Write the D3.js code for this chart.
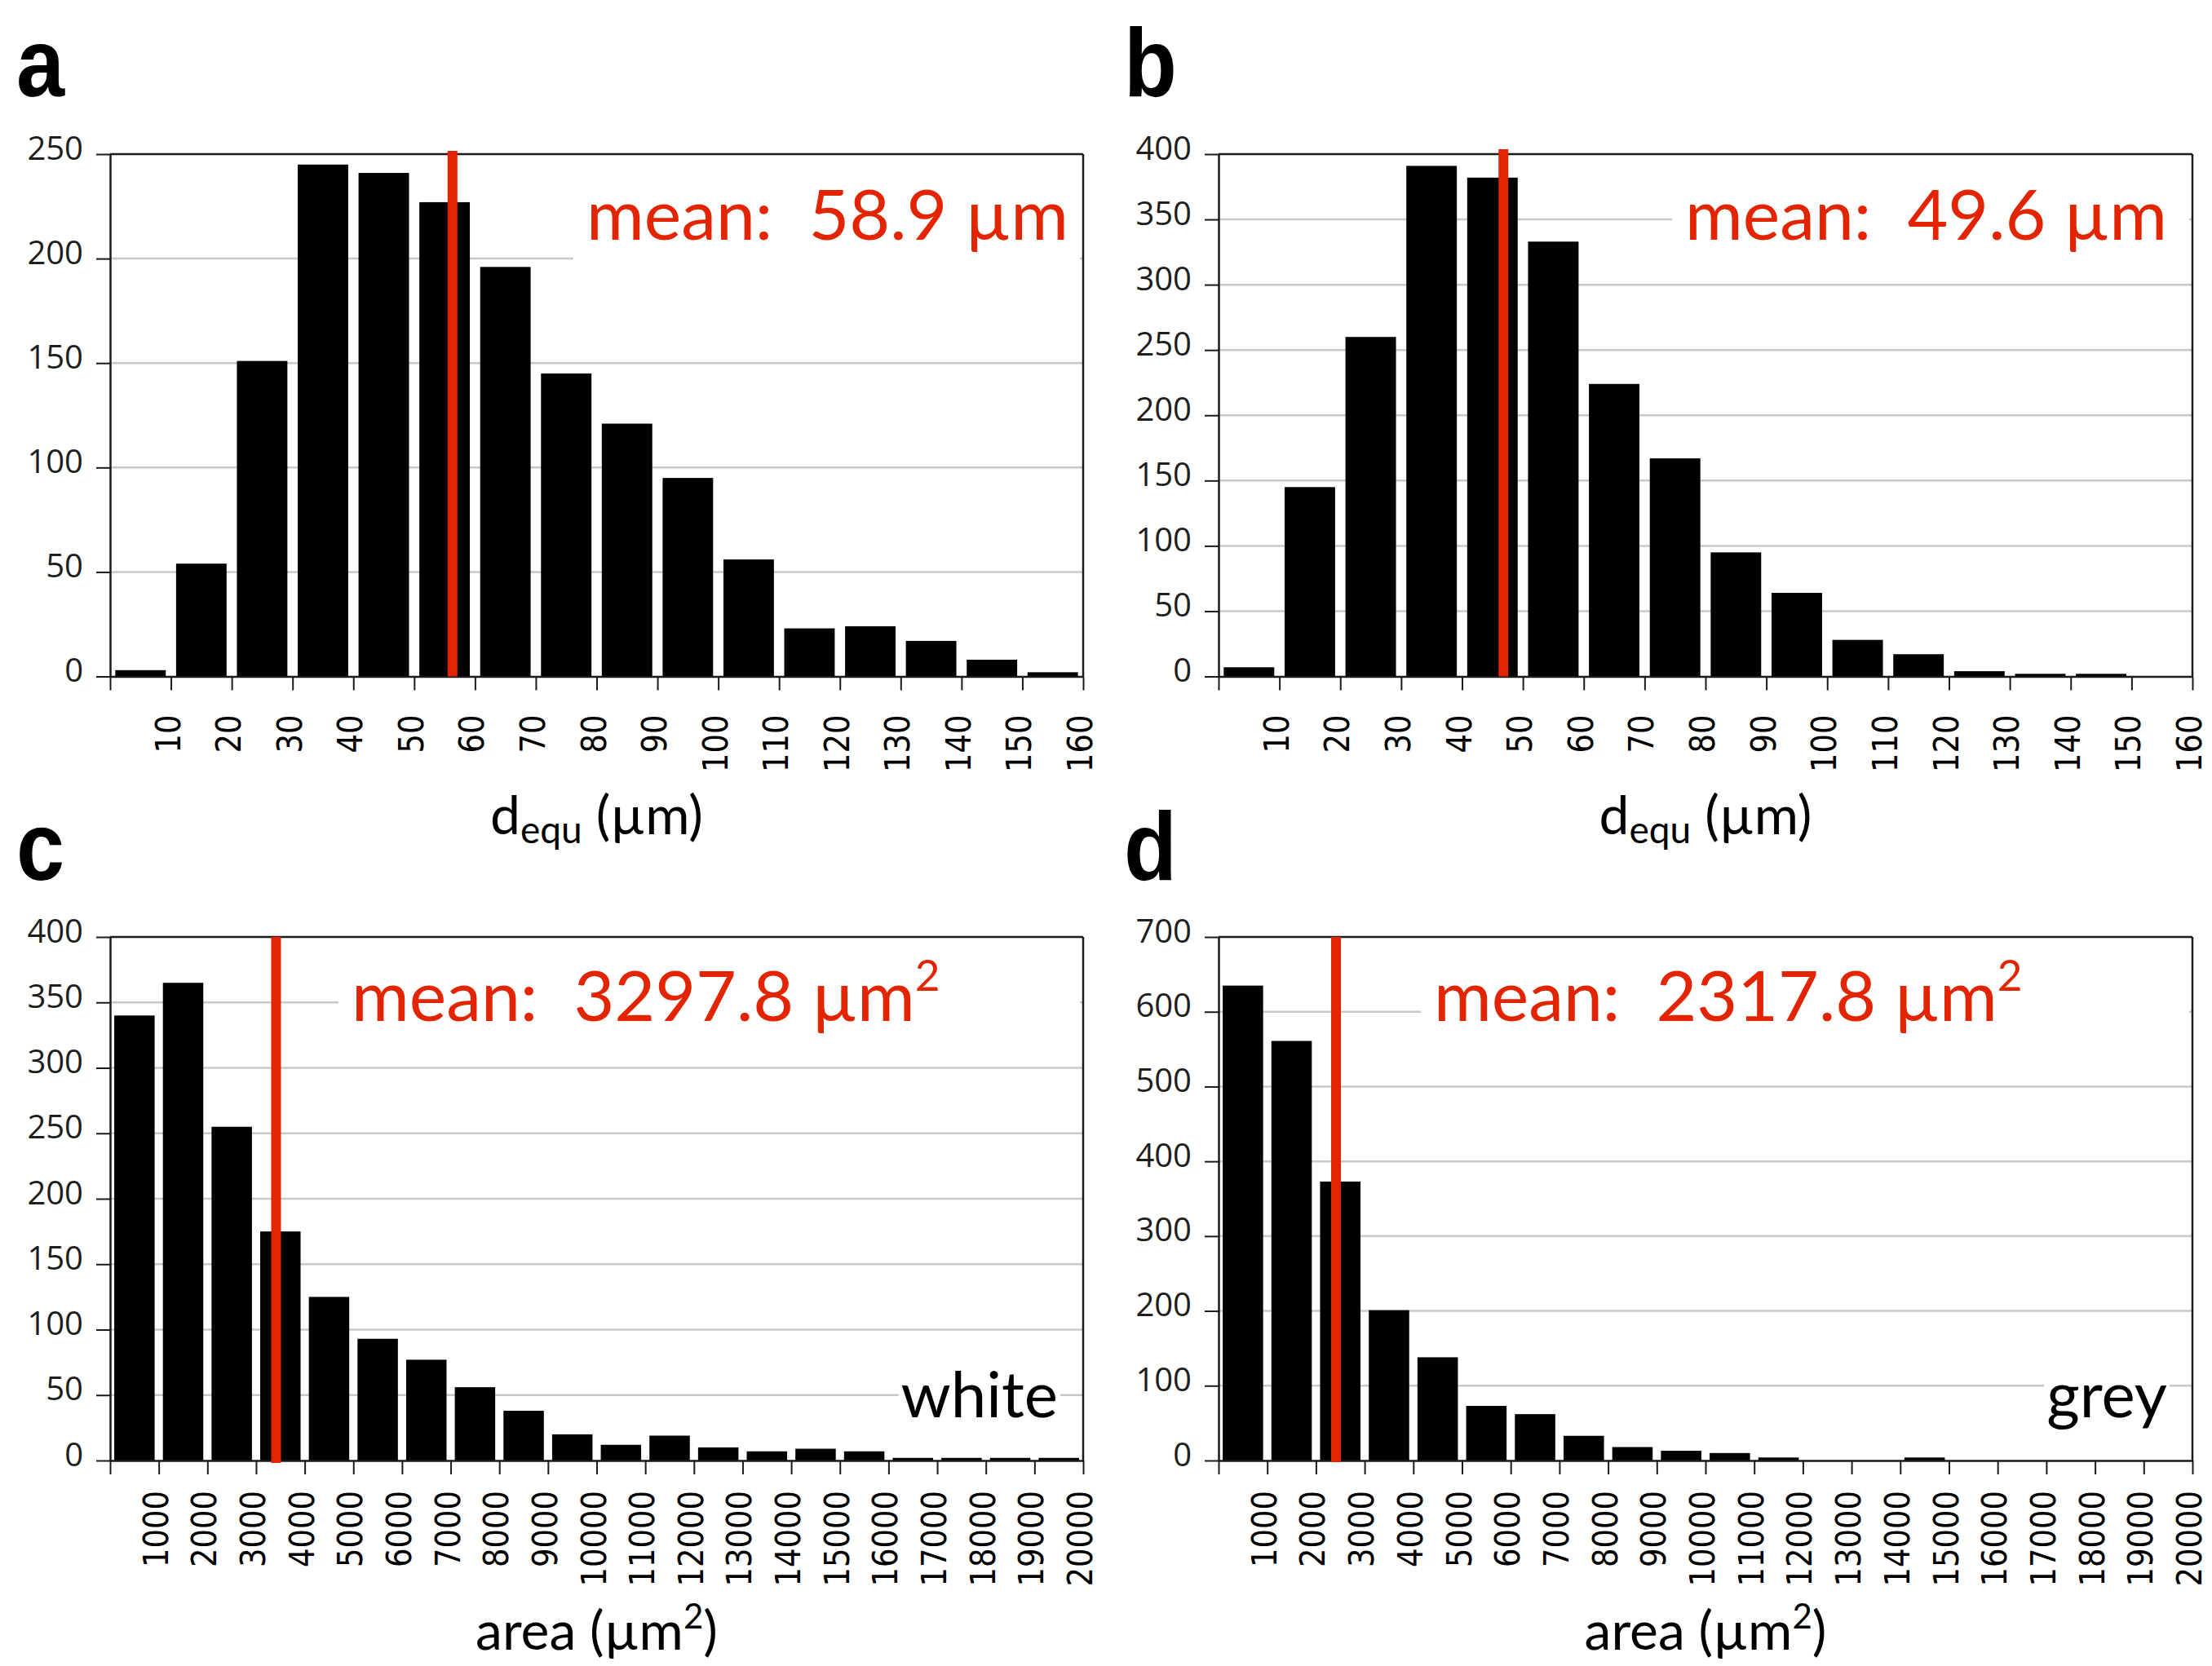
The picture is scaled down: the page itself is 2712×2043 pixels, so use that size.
<!DOCTYPE html>
<html>
<head>
<meta charset="utf-8">
<script src="https://cdn.jsdelivr.net/npm/d3@7/dist/d3.min.js"></script>
<style>
  body { margin: 0; background: #fff; }
  svg { display: block; }
</style>
</head>
<body>
<div id="chart"></div>
<script>
// bin edges on the x axes (label sits on the right edge of each bin)
var diamTicks = [0, 10, 20, 30, 40, 50, 60, 70, 80, 90, 100, 110, 120, 130, 140, 150, 160];
var areaTicks = [0, 1000, 2000, 3000, 4000, 5000, 6000, 7000, 8000, 9000, 10000,
                 11000, 12000, 13000, 14000, 15000, 16000, 17000, 18000, 19000, 20000];

// counts per bin
var countsA = [3, 54, 151, 245, 241, 227, 196, 145, 121, 95, 56, 23, 24, 17, 8, 2];
var countsB = [7, 145, 260, 391, 382, 333, 224, 167, 95, 64, 28, 17, 4, 2, 2, 0];
var countsC = [340, 365, 255, 175, 125, 93, 77, 56, 38, 20, 12, 19, 10, 7, 9, 7, 2, 2, 2, 2];
var countsD = [635, 561, 373, 201, 138, 73, 62, 33, 18, 13, 10, 4, 0, 0, 4, 0, 0, 0, 0, 0];

var yTicksA = [0, 50, 100, 150, 200, 250];
var yTicksB = [0, 50, 100, 150, 200, 250, 300, 350, 400];
var yTicksC = [0, 50, 100, 150, 200, 250, 300, 350, 400];
var yTicksD = [0, 100, 200, 300, 400, 500, 600, 700];

// where the red line stands in each panel, and the printed mean
var meanLines = [56.3, 46.8, 3411, 2412];
var meanTexts = ["58.9", "49.6", "3297.8", "2317.8"];
var letters = ["a", "b", "c", "d"];
var groupLabels = [null, null, "white", "grey"];

var red = "#e32400";

// layout of the four panels (pixels)
var panels = [
    {counts: countsA, ticks: diamTicks, yTicks: yTicksA, left: 135, right: 1328, top: 189, bottom: 829.5,
     lineTop: 185, lineBottom: 829.5, meanDx: 584, meanDy: 105, labelGap: 47, area: false,
     letterX: 20, letterY: 118, titleY: 1023},
    {counts: countsB, ticks: diamTicks, yTicks: yTicksB, left: 1494, right: 2688, top: 189, bottom: 829.5,
     lineTop: 183, lineBottom: 829.5, meanDx: 572, meanDy: 105, labelGap: 47, area: false,
     letterX: 1378, letterY: 118, titleY: 1023},
    {counts: countsC, ticks: areaTicks, yTicks: yTicksC, left: 135, right: 1328, top: 1149, bottom: 1791,
     lineTop: 1149, lineBottom: 1794, meanDx: 296, meanDy: 103, labelGap: 37, area: true,
     letterX: 20, letterY: 1079, titleY: 2023},
    {counts: countsD, ticks: areaTicks, yTicks: yTicksD, left: 1494, right: 2688, top: 1149, bottom: 1791,
     lineTop: 1149, lineBottom: 1793, meanDx: 264, meanDy: 103, labelGap: 37, area: true,
     letterX: 1378, letterY: 1079, titleY: 2023}
];

var svg = d3.select("#chart").append("svg")
    .attr("width", 2712)
    .attr("height", 2043);

panels.forEach(function (p, i) { drawPanel(p, i); });

function drawPanel(p, i) {
    var n = p.counts.length;
    var g = svg.append("g");

    var x = d3.scaleLinear()
        .domain([0, p.ticks[p.ticks.length - 1]])
        .range([p.left, p.right]);

    // bars sit centered in each bin
    var band = d3.scaleBand()
        .domain(d3.range(n))
        .range([p.left, p.right])
        .paddingInner(0.17)
        .paddingOuter(0.085);

    var y = d3.scaleLinear()
        .domain([0, p.yTicks[p.yTicks.length - 1]])
        .range([p.bottom, p.top]);

    /* grid lines */
    g.selectAll(".grid")
        .data(p.yTicks.slice(1, -1))
        .enter().append("line")
        .attr("class", "grid")
        .attr("x1", p.left)
        .attr("x2", p.right)
        .attr("y1", function (d) { return y(d); })
        .attr("y2", function (d) { return y(d); })
        .attr("stroke", "#c8c8c8")
        .attr("stroke-width", 2.5);

    var bg = g.append("g"); // white boxes behind the labels

    /* bars */
    g.selectAll(".bar")
        .data(p.counts)
        .enter().append("rect")
        .attr("class", "bar")
        .attr("x", function (d, j) { return band(j); })
        .attr("width", band.bandwidth())
        .attr("y", function (d) { return y(d); })
        .attr("height", function (d) { return p.bottom - y(d); })
        .attr("fill", "#000");

    /* frame: top and right */
    g.append("line")
        .attr("x1", p.left).attr("x2", p.right)
        .attr("y1", p.top).attr("y2", p.top)
        .attr("stroke", "#1a1a1a").attr("stroke-width", 2.5);
    g.append("line")
        .attr("x1", p.right).attr("x2", p.right)
        .attr("y1", p.top).attr("y2", p.bottom)
        .attr("stroke", "#1a1a1a").attr("stroke-width", 2.5);

    /* y axis */
    var yAxis = d3.axisLeft(y)
        .tickValues(p.yTicks)
        .tickSize(17)
        .tickSizeOuter(0)
        .tickPadding(16);
    var ya = g.append("g")
        .attr("transform", "translate(" + p.left + ",0)")
        .call(yAxis);
    ya.select(".domain").attr("stroke", "#1a1a1a").attr("stroke-width", 2.5);
    ya.selectAll(".tick line").attr("stroke", "#1a1a1a").attr("stroke-width", 2);
    ya.selectAll("text")
        .attr("dy", "0.15em")
        .attr("fill", "#1e1e1e")
        .style("font-family", "'Open Sans'")
        .style("font-size", "40px");

    /* x axis, labels turned up */
    var xAxis = d3.axisBottom(x)
        .tickValues(p.ticks)
        .tickSize(17)
        .tickSizeOuter(0)
        .tickFormat(function (d) { return d === 0 ? "" : d; });
    var xa = g.append("g")
        .attr("transform", "translate(0," + p.bottom + ")")
        .call(xAxis);
    xa.select(".domain").attr("stroke", "#1a1a1a").attr("stroke-width", 2.5);
    xa.selectAll(".tick line").attr("stroke", "#1a1a1a").attr("stroke-width", 2);
    xa.selectAll("text")
        .attr("y", 0)
        .attr("x", 0)
        .attr("dy", "0.25em")
        .attr("text-anchor", "end")
        .attr("transform", "translate(0," + p.labelGap + ") rotate(-90) scale(0.88,1)")
        .attr("fill", "#000")
        .style("font-family", "'DejaVu Sans'")
        .style("font-size", "42px");

    /* mean line */
    g.append("line")
        .attr("x1", x(meanLines[i])).attr("x2", x(meanLines[i]))
        .attr("y1", p.lineTop).attr("y2", p.lineBottom)
        .attr("stroke", red)
        .attr("stroke-width", 12);

    /* mean label */
    var mx = p.left + p.meanDx,
        my = p.top + p.meanDy;
    bg.append("rect")
        .attr("x", mx - 16)
        .attr("y", p.top + 3)
        .attr("width", p.right - 4 - (mx - 16))
        .attr("height", my + 33 - (p.top + 3))
        .attr("fill", "#fff");

    var mt = g.append("text")
        .attr("x", mx)
        .attr("y", my)
        .attr("fill", red)
        .attr("xml:space", "preserve")
        .style("white-space", "pre")
        .style("font-family", "Lato")
        .style("font-size", "86px");
    mt.append("tspan").text("mean:  " + meanTexts[i] + " µm");
    if (p.area) {
        mt.append("tspan")
            .attr("dy", -37)
            .style("font-size", "53px")
            .text("2");
    }

    /* white / grey */
    if (groupLabels[i]) {
        var gl = g.append("text")
            .attr("x", p.right - 31)
            .attr("y", p.bottom - 53)
            .attr("text-anchor", "end")
            .attr("fill", "#000")
            .style("font-family", "Lato")
            .style("font-size", "78px")
            .text(groupLabels[i]);
        var bb = gl.node().getBBox();
        bg.append("rect")
            .attr("x", bb.x - 3)
            .attr("y", bb.y)
            .attr("width", bb.width + 6)
            .attr("height", bb.height)
            .attr("fill", "#fff");
    }

    /* axis title */
    var cx = (p.left + p.right) / 2;
    var t = svg.append("text")
        .attr("x", cx)
        .attr("y", p.titleY)
        .attr("text-anchor", "middle")
        .attr("fill", "#000")
        .style("font-family", "Lato")
        .style("font-size", "66px");
    if (p.area) {
        t.append("tspan").text("area (µm");
        t.append("tspan").attr("dy", -26).style("font-size", "42px").text("2");
        t.append("tspan").attr("dy", 26).text(")");
    } else {
        t.append("tspan").text("d");
        t.append("tspan").attr("dy", 11).style("font-size", "46px").text("equ");
        t.append("tspan").attr("dy", -11).text(" (µm)");
    }

    /* panel letter, a bit narrow like the original */
    svg.append("text")
        .attr("transform", "translate(" + p.letterX + "," + p.letterY + ") scale(0.9,1)")
        .attr("fill", "#000")
        .style("font-family", "'Liberation Sans'")
        .style("font-weight", "bold")
        .style("font-size", "118px")
        .text(letters[i]);
}
</script>
</body>
</html>
